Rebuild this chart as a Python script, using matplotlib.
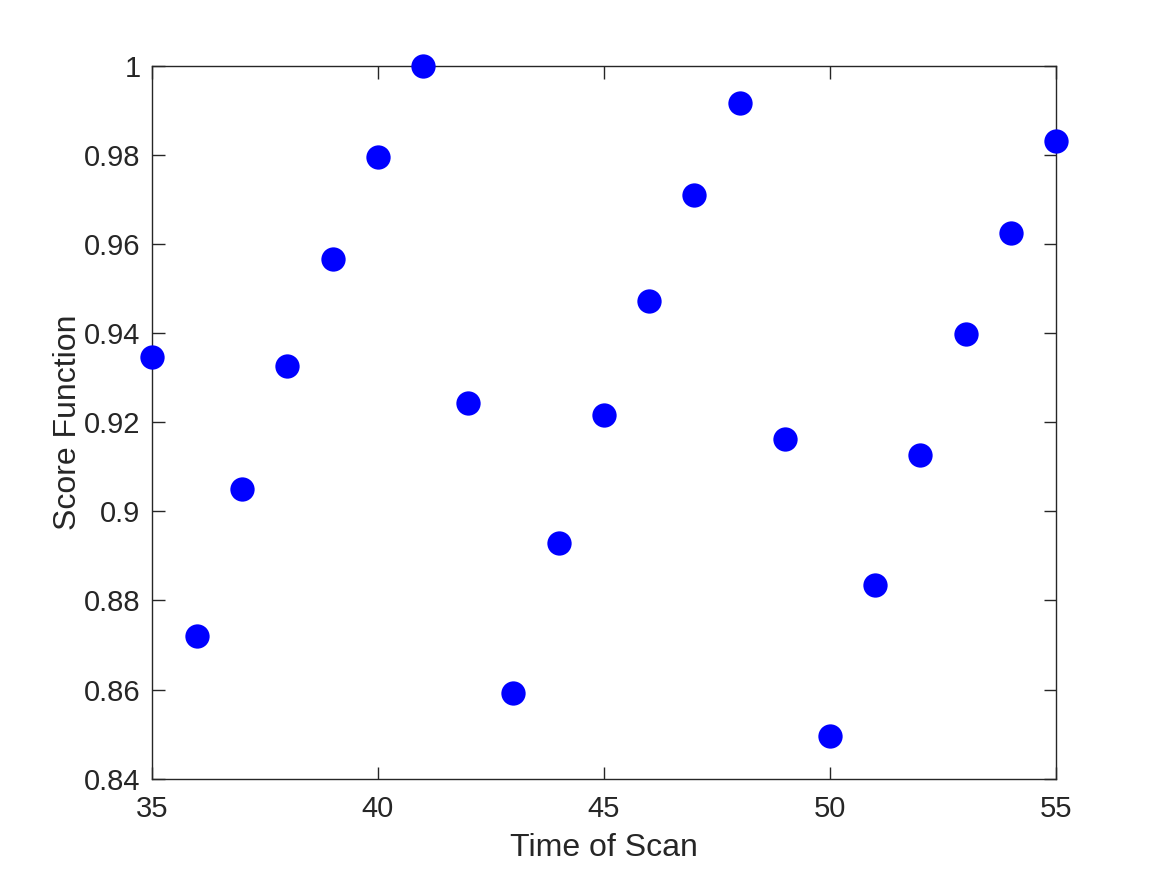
import matplotlib
matplotlib.use('Agg')
import matplotlib.pyplot as plt

# scan times and their score values
scan_time = [35, 36, 37, 38, 39, 40, 41, 42, 43, 44, 45,
             46, 47, 48, 49, 50, 51, 52, 53, 54, 55]
score = [0.9346, 0.8720, 0.9049, 0.9326, 0.9566, 0.9796, 1.0000,
         0.9243, 0.8592, 0.8928, 0.9216, 0.9472, 0.9709, 0.9917,
         0.9163, 0.8496, 0.8834, 0.9127, 0.9398, 0.9624, 0.9831]

x_ticks = [35, 40, 45, 50, 55]
y_ticks = [0.84, 0.86, 0.88, 0.9, 0.92, 0.94, 0.96, 0.98, 1]
y_tick_labels = ['0.84', '0.86', '0.88', '0.9', '0.92', '0.94', '0.96', '0.98', '1']

plt.rcParams['font.family'] = ['Liberation Sans', 'DejaVu Sans']
axis_col = '#262626'

fig = plt.figure(figsize=(11.67, 8.75), dpi=100)
ax = fig.add_axes([0.13, 0.11, 0.775, 0.815])

ax.plot(scan_time, score, 'o', color='#0000ff', markersize=17.5, markeredgewidth=0,
        clip_on=False, zorder=3)

ax.set_xlim(35, 55)
ax.set_ylim(0.84, 1.0)
ax.set_xticks(x_ticks)
ax.set_yticks(y_ticks)
ax.set_yticklabels(y_tick_labels)

ax.tick_params(direction='in', length=9, width=1, top=True, right=True,
               labelsize=21, colors=axis_col, pad=8)
ax.tick_params(axis='x', pad=12)
for s in ax.spines.values():
    s.set_color(axis_col)
    s.set_linewidth(1)

ax.set_xlabel('Time of Scan', fontsize=23, color=axis_col, labelpad=7)
ax.set_ylabel('Score Function', fontsize=23, color=axis_col, labelpad=1)

fig.savefig('out.png', dpi=100)
